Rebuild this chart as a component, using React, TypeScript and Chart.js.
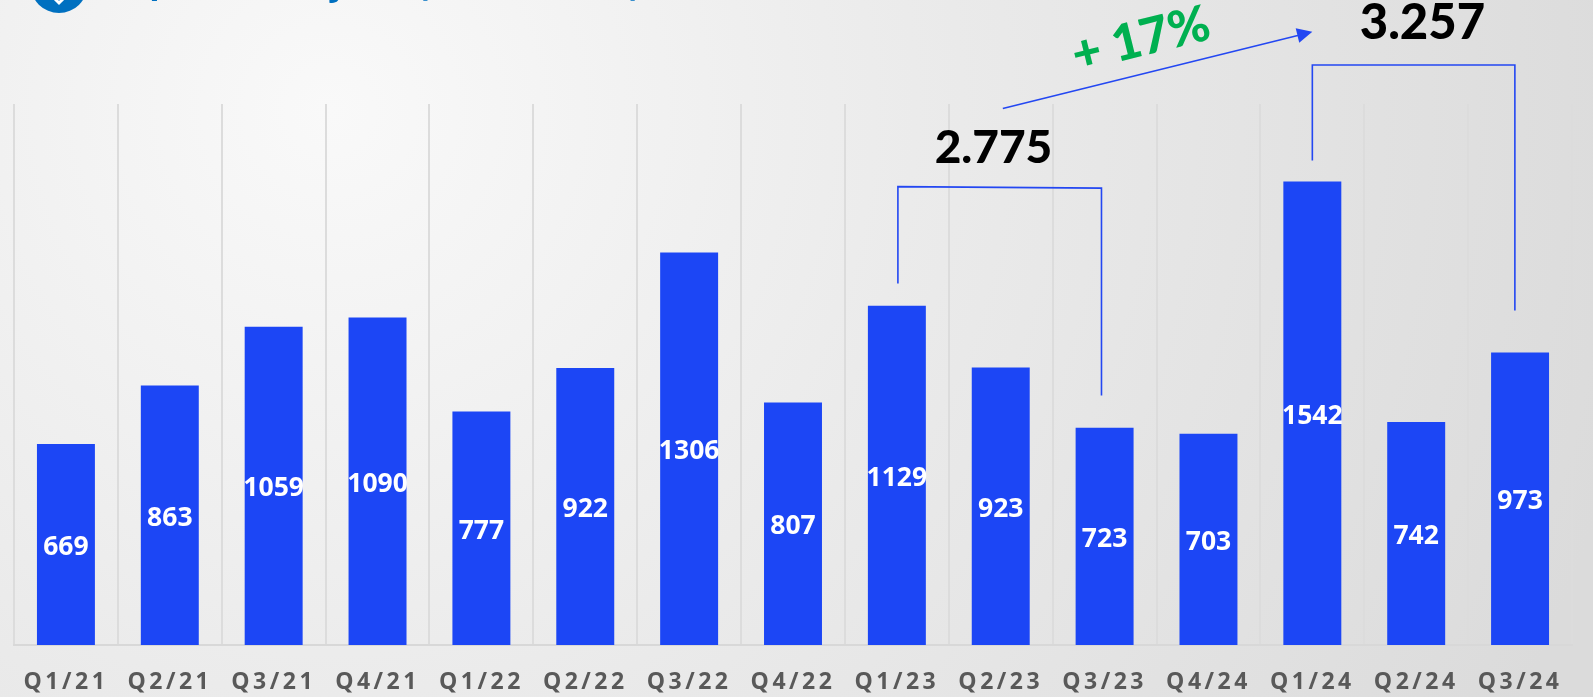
import React, { useEffect, useRef } from "react";
import { Chart, registerables } from "chart.js";

Chart.register(...registerables);

const quarters = ["Q1/21","Q2/21","Q3/21","Q4/21","Q1/22","Q2/22","Q3/22","Q4/22","Q1/23","Q2/23","Q3/23","Q4/24","Q1/24","Q2/24","Q3/24"];
const shipments = [669,863,1059,1090,777,922,1306,807,1129,923,723,703,1542,742,973];
const total2023 = "2.775";
const total2024 = "3.257";
const growthLabel = "+ 17%";
// Brackets in data units: [category position, value]
const bracket2023 = [[8.01,1203],[8.01,1525],[9.97,1520],[9.97,830]];
const bracket2024 = [[12.0,1612],[12.0,1930],[13.95,1930],[13.95,1113]];
const growthArrow = [[9.02,1785],[12.0,2040]];

const BLUE = "#1c46f5";
const LINE = "#2347f2";

const decorPlugin = {
  id: "decor",
  beforeDraw(chart: any) {
    const { ctx, width, height } = chart;
    ctx.save();
    const g = ctx.createRadialGradient(330, 110, 0, 330, 110, 1330);
    g.addColorStop(0, "#f9f9f9");
    g.addColorStop(0.44, "#ebebeb");
    g.addColorStop(1, "#dbdbdb");
    ctx.fillStyle = g;
    ctx.fillRect(0, 0, width, height);

    // cropped title badge and the title descenders that remain in view
    ctx.fillStyle = "#0070c0";
    ctx.beginPath();
    ctx.arc(59, -15.5, 28.5, 0, Math.PI * 2);
    ctx.fill();
    ctx.strokeStyle = "#ffffff";
    ctx.lineWidth = 3;
    ctx.beginPath();
    ctx.moveTo(55, -1);
    ctx.lineTo(59, 3);
    ctx.lineTo(63, -1);
    ctx.stroke();
    ctx.fillStyle = "#0070c0";
    ctx.font = "700 34px 'Open Sans'";
    ctx.textAlign = "center";
    ctx.textBaseline = "alphabetic";
    ctx.fillText("p", 160, -7);
    ctx.fillText("y", 338, -5);
    ctx.fillText("(", 423, -5);
    ctx.fillText(")", 635, -5);
    ctx.restore();
    ctx.letterSpacing = "3.5px";
  },
  beforeDatasetsDraw(chart: any) {
    chart.ctx.letterSpacing = "0px";
  },
  afterDatasetsDraw(chart: any) {
    const { ctx, scales } = chart;
    const x = scales.x;
    const y = scales.y;
    const meta = chart.getDatasetMeta(0);
    ctx.save();
    ctx.fillStyle = "#ffffff";
    ctx.font = "700 26.5px 'Open Sans'";
    ctx.textAlign = "center";
    ctx.textBaseline = "middle";
    meta.data.forEach((el: any, i: number) => {
      ctx.fillText(String(shipments[i]), el.x, (el.y + el.base) / 2 + 3);
    });

    const px = (p: number[]) => [x.getPixelForValue(p[0]), y.getPixelForValue(p[1])];
    ctx.strokeStyle = LINE;
    ctx.lineWidth = 1.6;
    [bracket2023, bracket2024].forEach((b) => {
      ctx.beginPath();
      b.forEach((p, i) => {
        const [a, c] = px(p);
        if (i === 0) ctx.moveTo(a, c);
        else ctx.lineTo(a, c);
      });
      ctx.stroke();
    });

    const [ax, ay] = px(growthArrow[0]);
    const [bx, by] = px(growthArrow[1]);
    const ang = Math.atan2(by - ay, bx - ax);
    ctx.beginPath();
    ctx.moveTo(ax, ay);
    ctx.lineTo(bx - 14 * Math.cos(ang), by - 14 * Math.sin(ang));
    ctx.stroke();
    ctx.fillStyle = LINE;
    ctx.beginPath();
    ctx.moveTo(bx, by);
    ctx.lineTo(bx - 17 * Math.cos(ang - 0.45), by - 17 * Math.sin(ang - 0.45));
    ctx.lineTo(bx - 17 * Math.cos(ang + 0.45), by - 17 * Math.sin(ang + 0.45));
    ctx.closePath();
    ctx.fill();

    ctx.fillStyle = "#000000";
    ctx.font = "900 46px Lato";
    ctx.fillText(total2023, x.getPixelForValue(8.93), y.getPixelForValue(1654));
    ctx.font = "900 49px Lato";
    ctx.fillText(total2024, x.getPixelForValue(13.06), y.getPixelForValue(2070));

    ctx.save();
    ctx.translate(x.getPixelForValue(10.35), y.getPixelForValue(2014));
    ctx.rotate(ang);
    ctx.fillStyle = "#00b050";
    ctx.font = "900 50px Lato";
    ctx.fillText(growthLabel, 0, 0);
    ctx.restore();
    ctx.restore();
  },
};

export default function App() {
  const ref = useRef<HTMLCanvasElement>(null);
  useEffect(() => {
    const chart = new Chart(ref.current as HTMLCanvasElement, {
      type: "bar",
      data: {
        labels: quarters,
        datasets: [{
          data: shipments,
          backgroundColor: BLUE,
          borderWidth: 0,
          categoryPercentage: 1,
          barPercentage: 0.558,
        }],
      },
      plugins: [decorPlugin],
      options: {
        responsive: false,
        animation: false,
        layout: { padding: { left: 14, right: 21, top: 104, bottom: 0 } },
        plugins: { legend: { display: false }, tooltip: { enabled: false }, title: { display: false } },
        scales: {
          x: {
            afterFit(scale: any) { scale.height = 52; },
            grid: { color: "#dcdcdc", lineWidth: 2, drawTicks: false, offset: true },
            border: { color: "#d8d8d8", width: 2 },
            ticks: {
              autoSkip: false,
              maxRotation: 0,
              padding: 24,
              color: "#595959",
              font: { family: "'Open Sans'", size: 23, weight: "700" },
            },
          },
          y: { display: false, min: 0, max: 1800 },
        },
      },
    } as any);
    return () => chart.destroy();
  }, []);
  return (
    <div style={{ position: "fixed", left: 0, top: 0, width: 1593, height: 697 }}>
      <canvas ref={ref} width={1593} height={697} style={{ display: "block" }} />
    </div>
  );
}
